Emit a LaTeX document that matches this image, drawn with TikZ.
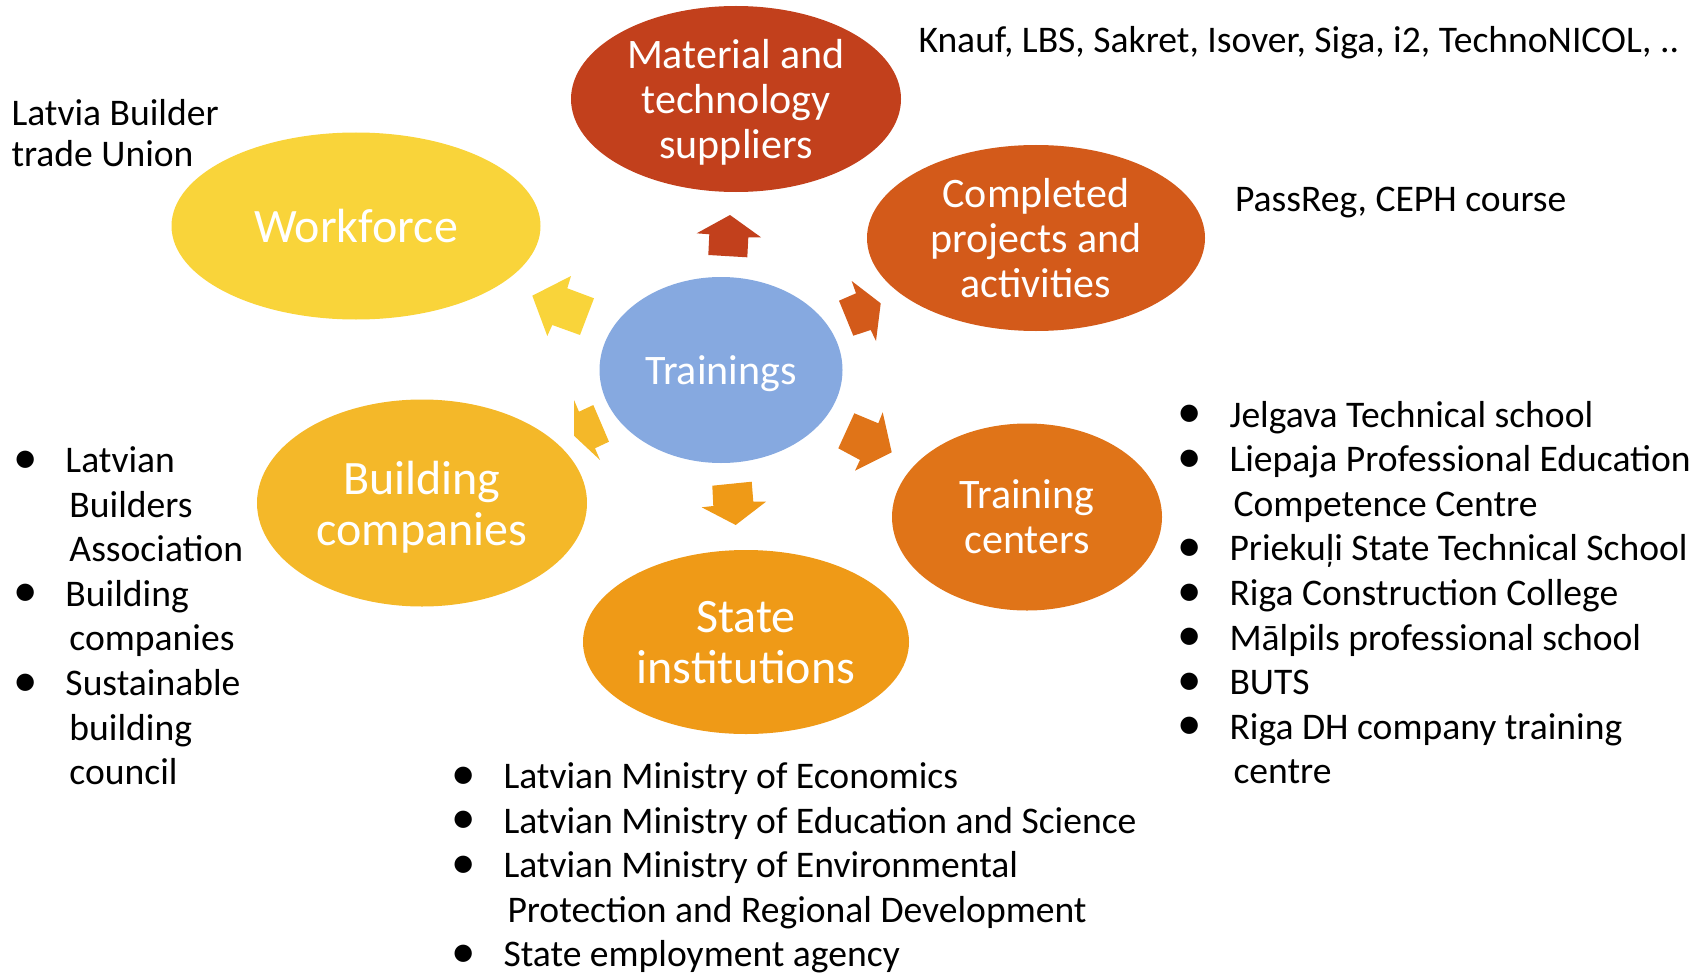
\documentclass[tikz,border=0pt]{standalone}
\usepackage{fontspec}
\usepackage{graphicx}
\setmainfont{Carlito}
\usetikzlibrary{shapes.geometric}

\definecolor{supplyred}{HTML}{C2401C}
\definecolor{projectorange}{HTML}{D35A1A}
\definecolor{centreorange}{HTML}{E07418}
\definecolor{stateorange}{HTML}{EF9A17}
\definecolor{buildyellow}{HTML}{F4B829}
\definecolor{workyellow}{HTML}{F9D43A}
\definecolor{trainblue}{HTML}{86A9E0}

\newcommand{\blt}{\raisebox{-0.5pt}{\scalebox{1.3}{•}}}

\tikzset{every picture/.style={line width=0.75pt}}

\begin{document}
\begin{tikzpicture}[x=0.75pt,y=0.75pt,yscale=-1,xscale=1,
  bubble/.style={ellipse, inner sep=0pt, text=white, align=center, text depth=0pt},
  midfont/.style={font=\fontsize{31.5}{33.75}\selectfont},
  bigfont/.style={font=\fontsize{36}{38.25}\selectfont},
  listfont/.style={font=\fontsize{28.2}{33.45}\selectfont, inner sep=0pt}]
\useasboundingbox (0,0) rectangle (1701,977);

%Shape: Ellipse
\node[bubble, midfont, fill=supplyred, minimum width=247.5pt, minimum height=139.5pt] (supply) at (736,99) {Material and\\technology\\suppliers};
%Shape: Ellipse
\node[bubble, midfont, fill=projectorange, minimum width=253.5pt, minimum height=139.5pt] (projects) at (1036,238) {Completed\\projects and\\activities};
%Shape: Ellipse
\node[bubble, bigfont, fill=workyellow, minimum width=276.75pt, minimum height=140.25pt] (workforce) at (356,226) {Workforce};
%Shape: Ellipse
\node[bubble, midfont, fill=trainblue, minimum width=182.25pt, minimum height=139.5pt] (trainings) at (721,370) {Trainings};
%Shape: Ellipse
\node[bubble, bigfont, fill=buildyellow, minimum width=247.5pt, minimum height=155.25pt] (building) at (422,503) {Building\\companies};
%Shape: Ellipse
\node[bubble, midfont, fill=centreorange, minimum width=202.5pt, minimum height=140.25pt] (centres) at (1027,517) {Training\\centers};
%Shape: Ellipse
\node[bubble, bigfont, fill=stateorange, minimum width=244.5pt, minimum height=138pt] (state) at (746,642) {State\\institutions};

%Shape: Arrow (up)
\fill[supplyred] (730,215) -- (761,237.3) -- (748.3,237.3) -- (747.3,257.3) -- (708.3,255) -- (709.3,234.3) -- (696.7,233.3) -- cycle;
%Shape: Arrow (up left)
\fill[workyellow] (532.3,295.7) -- (571,276) -- (567.3,288.3) -- (594,298.3) -- (580,335) -- (552.3,325) -- (547.3,336) -- cycle;
%Shape: Arrow (up right)
\fill[projectorange] (851.7,281) -- (880.7,303.3) -- (876,341) -- (870.7,330) -- (853.3,335.7) -- (839,300.7) -- (856,293.3) -- cycle;
%Shape: Arrow (down right)
\fill[centreorange] (854.3,413.3) -- (878.3,423.3) -- (882.7,412.3) -- (891.7,452.3) -- (855,470.7) -- (860,460) -- (838.3,448.3) -- cycle;
%Shape: Arrow (down)
\fill[stateorange] (712.3,485.7) -- (751.7,481.7) -- (753.3,501.7) -- (766,501.7) -- (735.7,525) -- (701.7,507.3) -- (713.3,506) -- cycle;
%Shape: Arrow (down left)
\fill[buildyellow] (574,400) -- (579,411.7) -- (593.3,405) -- (609,441.7) -- (595,448.3) -- (600,460) -- (574,435.7) -- cycle;

% Text Node
\node[listfont, anchor=base west] (supplynote) at (918,52.5) {Knauf, LBS, Sakret, Isover, Siga, i2, TechnoNICOL, ..};
% Text Node
\node[listfont, anchor=base west] (projectnote) at (1234.5,211) {PassReg, CEPH course};
% Text Node
\node[font=\fontsize{28.2}{30.75}\selectfont, inner sep=0pt, anchor=base west] (worknote) at (11,125.5) {\begin{tabular}[t]{@{}l@{}}Latvia Builder\\trade Union\end{tabular}};
% Text Node
\node[listfont, anchor=base west] (buildlist) at (13,472.5) {\begin{tabular}[t]{@{}p{39pt}@{}l@{}}
\blt & Latvian\\
 & \hspace{3pt}Builders\\
 & \hspace{3pt}Association\\
\blt & Building\\
 & \hspace{3pt}companies\\
\blt & Sustainable\\
 & \hspace{3pt}building\\
 & \hspace{3pt}council
\end{tabular}};
% Text Node
\node[listfont, anchor=base west] (centrelist) at (1177,427) {\begin{tabular}[t]{@{}p{39pt}@{}l@{}}
\blt & Jelgava Technical school\\
\blt & Liepaja Professional Education\\
 & \hspace{3pt}Competence Centre\\
\blt & Priekuļi State Technical School\\
\blt & Riga Construction College\\
\blt & Mālpils professional school\\
\blt & BUTS\\
\blt & Riga DH company training\\
 & \hspace{3pt}centre
\end{tabular}};
% Text Node
\node[listfont, anchor=base west] (statelist) at (451,788.5) {\begin{tabular}[t]{@{}p{39pt}@{}l@{}}
\blt & Latvian Ministry of Economics\\
\blt & Latvian Ministry of Education and Science\\
\blt & Latvian Ministry of Environmental\\
 & \hspace{3pt}Protection and Regional Development\\
\blt & State employment agency
\end{tabular}};

\end{tikzpicture}
\end{document}
